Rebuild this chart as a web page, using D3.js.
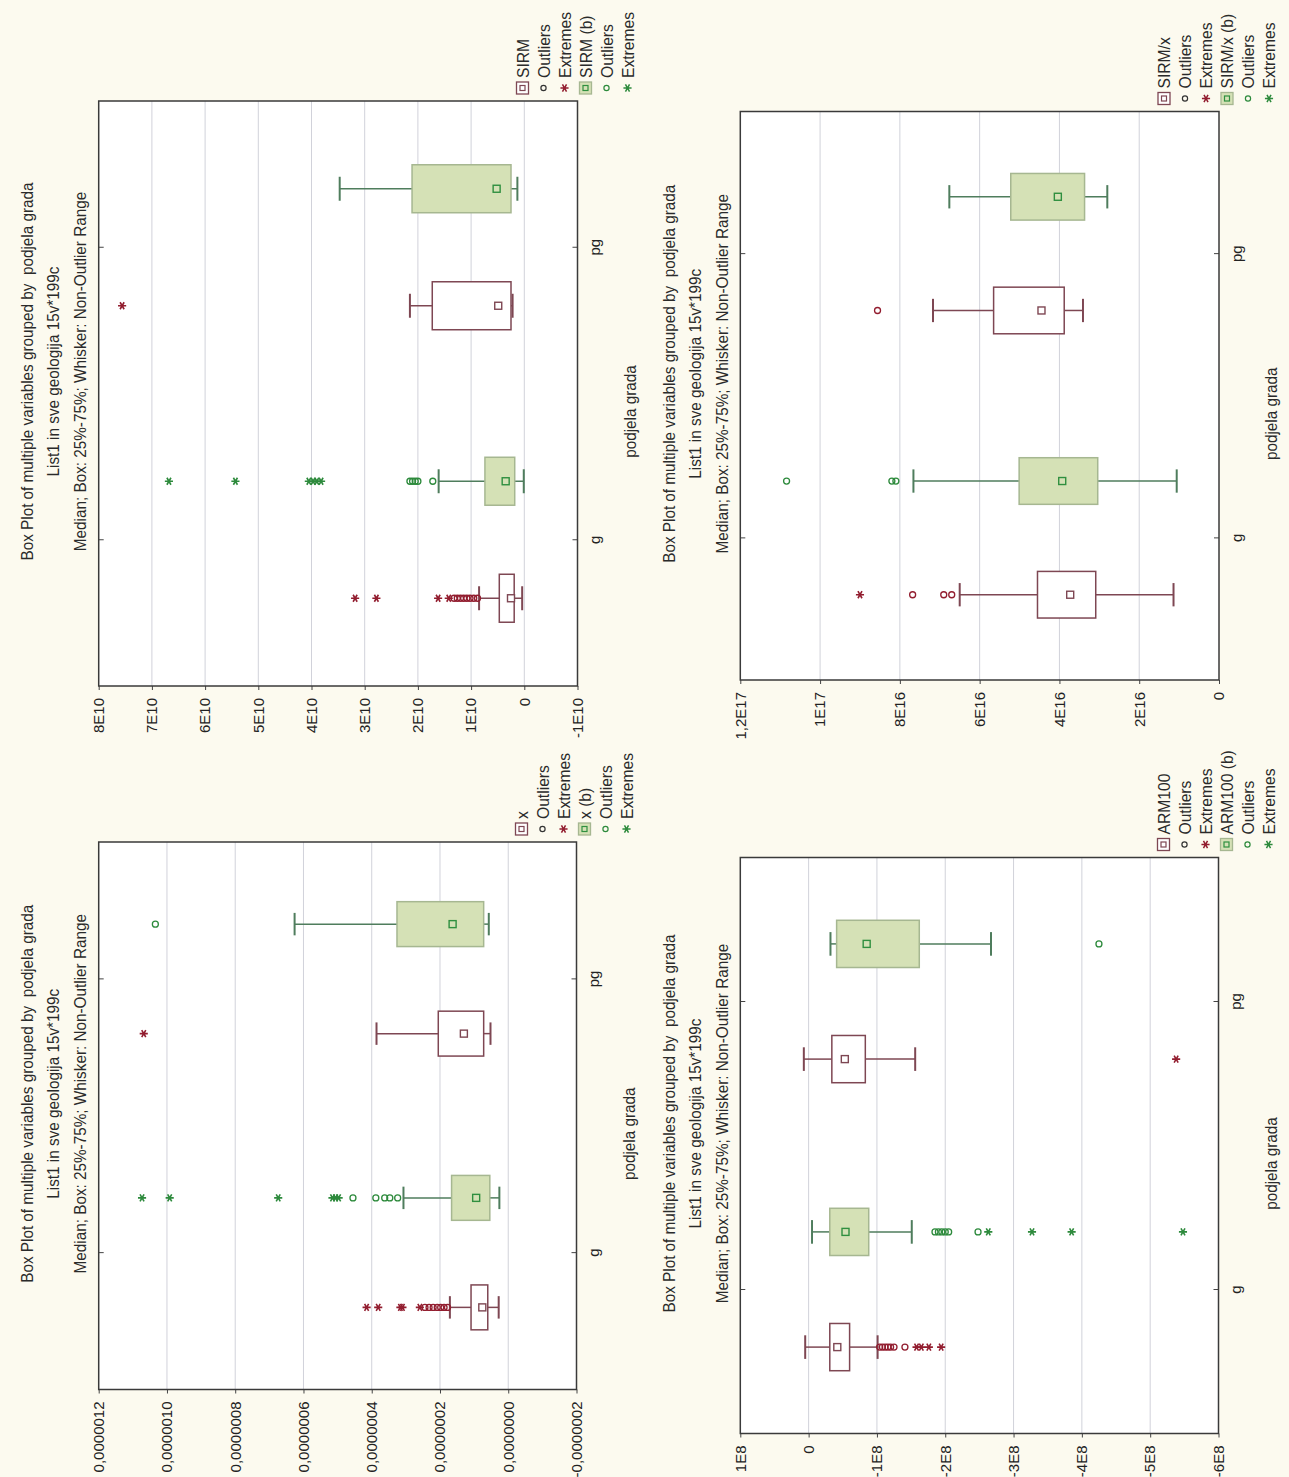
<!DOCTYPE html>
<html><head><meta charset="utf-8">
<script src="https://cdn.jsdelivr.net/npm/d3@7"></script>
<style>
html,body{margin:0;padding:0;background:#fcfaef;}
svg{display:block;}
text{white-space:pre;}
</style></head><body>
<svg id="chart" width="1289" height="1477"></svg>
<script>
// ---------- shared data ----------
const groups = ["g", "pg"];
const titleLines = [
  "Box Plot of multiple variables grouped by  podjela grada",
  "List1 in sve geologija 15v*199c",
  "Median; Box: 25%-75%; Whisker: Non-Outlier Range"
];
const xAxisTitle = "podjela grada";
const legendPointLabels = ["Outliers", "Extremes"];

// ---------- SIRM panel ----------
const sirmVars = ["SIRM", "SIRM (b)"];
const sirmTicks = [8e10, 7e10, 6e10, 5e10, 4e10, 3e10, 2e10, 1e10, 0, -1e10];
const sirmTickLabels = ["8E10", "7E10", "6E10", "5E10", "4E10", "3E10", "2E10", "1E10", "0", "-1E10"];
// [whisker low, Q1, median, Q3, whisker high] for g/SIRM, g/SIRM(b), pg/SIRM, pg/SIRM(b)
const sirmBoxes = [
  [0.04e10, 0.19e10, 0.25e10, 0.47e10, 0.85e10],
  [0.01e10, 0.18e10, 0.35e10, 0.74e10, 1.61e10],
  [0.22e10, 0.25e10, 0.49e10, 1.73e10, 2.15e10],
  [0.13e10, 0.25e10, 0.52e10, 2.11e10, 3.47e10]
];
const sirmOutliers = [
  [0.88e10, 0.95e10, 1.02e10, 1.08e10, 1.14e10, 1.2e10, 1.26e10, 1.32e10],
  [1.72e10, 2.0e10, 2.05e10, 2.1e10, 2.15e10],
  [],
  []
];
const sirmExtremes = [
  [1.42e10, 1.62e10, 2.78e10, 3.18e10],
  [3.82e10, 3.9e10, 3.97e10, 4.05e10, 5.43e10, 6.68e10],
  [7.56e10],
  []
];

// ---------- SIRM/x panel ----------
const sirmxVars = ["SIRM/x", "SIRM/x (b)"];
const sirmxTicks = [1.2e17, 1e17, 8e16, 6e16, 4e16, 2e16, 0];
const sirmxTickLabels = ["1,2E17", "1E17", "8E16", "6E16", "4E16", "2E16", "0"];
const sirmxBoxes = [
  [1.14e16, 3.09e16, 3.73e16, 4.55e16, 6.5e16],
  [1.06e16, 3.04e16, 3.93e16, 5.01e16, 7.66e16],
  [3.41e16, 3.88e16, 4.45e16, 5.65e16, 7.17e16],
  [2.8e16, 3.37e16, 4.04e16, 5.22e16, 6.76e16]
];
const sirmxOutliers = [
  [6.7e16, 6.9e16, 7.68e16],
  [8.1e16, 8.2e16, 10.84e16],
  [8.56e16],
  []
];
const sirmxExtremes = [
  [9.0e16],
  [],
  [],
  []
];

// ---------- x panel ----------
const xVars = ["x", "x (b)"];
const xTicks = [1.2e-6, 1.0e-6, 8e-7, 6e-7, 4e-7, 2e-7, 0, -2e-7];
const xTickLabels = ["0,0000012", "0,0000010", "0,0000008", "0,0000006", "0,0000004", "0,0000002", "0,0000000", "-0,0000002"];
const xBoxes = [
  [2.8e-8, 6.0e-8, 7.6e-8, 1.09e-7, 1.71e-7],
  [2.6e-8, 5.4e-8, 9.4e-8, 1.66e-7, 3.07e-7],
  [5.2e-8, 7.2e-8, 1.3e-7, 2.05e-7, 3.86e-7],
  [5.7e-8, 7.2e-8, 1.63e-7, 3.26e-7, 6.26e-7]
];
const xOutliers = [
  [1.78e-7, 1.88e-7, 1.98e-7, 2.08e-7, 2.2e-7, 2.32e-7, 2.44e-7],
  [3.24e-7, 3.47e-7, 3.62e-7, 3.88e-7, 4.55e-7],
  [],
  [1.034e-6]
];
const xExtremes = [
  [2.59e-7, 3.1e-7, 3.16e-7, 3.81e-7, 4.15e-7],
  [4.97e-7, 5.06e-7, 5.15e-7, 6.74e-7, 9.92e-7, 1.073e-6],
  [1.068e-6],
  []
];

// ---------- ARM100 panel ----------
const armVars = ["ARM100", "ARM100 (b)"];
const armTicks = [1e8, 0, -1e8, -2e8, -3e8, -4e8, -5e8, -6e8];
const armTickLabels = ["1E8", "0", "-1E8", "-2E8", "-3E8", "-4E8", "-5E8", "-6E8"];
const armBoxes = [
  [-1.01e8, -0.6e8, -0.42e8, -0.31e8, 0.05e8],
  [-1.51e8, -0.88e8, -0.54e8, -0.31e8, -0.05e8],
  [-1.56e8, -0.83e8, -0.53e8, -0.34e8, 0.07e8],
  [-2.67e8, -1.62e8, -0.85e8, -0.41e8, -0.32e8]
];
const armOutliers = [
  [-1.04e8, -1.08e8, -1.12e8, -1.16e8, -1.2e8, -1.25e8, -1.41e8],
  [-1.85e8, -1.9e8, -1.95e8, -2.0e8, -2.05e8, -2.48e8],
  [],
  [-4.25e8]
];
const armExtremes = [
  [-1.58e8, -1.65e8, -1.76e8, -1.94e8],
  [-2.63e8, -3.27e8, -3.85e8, -5.48e8],
  [-5.38e8],
  []
];

// ---------- drawing ----------
const FONT = '"Liberation Sans", Arial, Helvetica, sans-serif';
const COL = {
  a: {stroke: "#7e4753", fill: "#ffffff", whisker: "#7e4753", median: "#7e4753", point: "#921d2f"},
  b: {stroke: "#a6b791", fill: "#d5e1b6", whisker: "#4f7d5d", median: "#2f8f3f", point: "#2d8a3c"}
};

const svg = d3.select("#chart");
svg.append("rect").attr("width", 1289).attr("height", 1477).attr("fill", "#fcfaef");

function drawPanel(p) {
  const W = p.fx1 - p.fx0;   // value extent (screen x)
  const H = p.fy1 - p.fy0;   // category extent (screen y)
  const g = svg.append("g").attr("transform", `translate(${p.fx0},${p.fy1}) rotate(-90)`)
    .attr("font-family", FONT);

  const y = d3.scaleLinear().domain([p.ticks[p.ticks.length - 1], p.ticks[0]]).range([W, 0]);
  const x = d3.scaleBand().domain(groups).range([0, H]);

  g.append("rect").attr("width", H).attr("height", W).attr("fill", "#ffffff");

  // gridlines
  g.append("g").selectAll("line").data(p.ticks.slice(1, -1)).join("line")
    .attr("x1", 0).attr("x2", H).attr("y1", d => y(d)).attr("y2", d => y(d))
    .attr("stroke", "#d1d2da").attr("stroke-width", 1);

  // value axis
  const ay = g.append("g").call(
    d3.axisLeft(y).tickValues(p.ticks).tickFormat((d, i) => p.tickLabels[i])
      .tickSizeInner(4).tickSizeOuter(0).tickPadding(8));
  ay.attr("font-family", FONT).attr("font-size", 15);
  ay.select(".domain").remove();
  ay.selectAll("line").attr("stroke", "#444");
  ay.selectAll("text").attr("fill", "#222");

  // category axis (ticks inward on both sides)
  const ax = g.append("g").attr("transform", `translate(0,${W})`).call(
    d3.axisBottom(x).tickSizeInner(-5).tickSizeOuter(0).tickPadding(12));
  ax.attr("font-family", FONT).attr("font-size", 15);
  ax.select(".domain").remove();
  ax.selectAll("line").attr("stroke", "#444");
  ax.selectAll("text").attr("fill", "#222");
  const ax2 = g.append("g").call(d3.axisTop(x).tickSizeInner(-5).tickSizeOuter(0).tickFormat(""));
  ax2.select(".domain").remove();
  ax2.selectAll("line").attr("stroke", "#444");

  // frame
  g.append("rect").attr("width", H).attr("height", W).attr("fill", "none")
    .attr("stroke", "#3a3a3a").attr("stroke-width", 1.5);

  // boxes
  const bw = 0.082 * H, off = 0.1 * H, cap = bw * 0.5;
  const star = d3.symbol(d3.symbolAsterisk, 46)();
  p.boxes.forEach((s, i) => {
    const grp = groups[Math.floor(i / 2)];
    const k = i % 2;
    const c = k ? COL.b : COL.a;
    const uc = x(grp) + x.bandwidth() / 2 + (k ? off : -off);
    const [wlo, q1, med, q3, whi] = s;
    const bg = g.append("g");
    bg.append("line").attr("x1", uc).attr("x2", uc).attr("y1", y(q3)).attr("y2", y(whi))
      .attr("stroke", c.whisker).attr("stroke-width", 1.5);
    bg.append("line").attr("x1", uc).attr("x2", uc).attr("y1", y(q1)).attr("y2", y(wlo))
      .attr("stroke", c.whisker).attr("stroke-width", 1.5);
    [whi, wlo].forEach(v => bg.append("line")
      .attr("x1", uc - cap / 2).attr("x2", uc + cap / 2).attr("y1", y(v)).attr("y2", y(v))
      .attr("stroke", c.whisker).attr("stroke-width", 2));
    bg.append("rect").attr("x", uc - bw / 2).attr("width", bw)
      .attr("y", y(q3)).attr("height", y(q1) - y(q3))
      .attr("fill", c.fill).attr("stroke", c.stroke).attr("stroke-width", 1.5);
    bg.append("rect").attr("x", uc - 3.5).attr("y", y(med) - 3.5).attr("width", 7).attr("height", 7)
      .attr("fill", k ? c.fill : "#fff").attr("stroke", c.median).attr("stroke-width", 1.4);
    bg.selectAll("circle").data(p.outliers[i]).join("circle")
      .attr("cx", uc).attr("cy", d => y(d)).attr("r", 3)
      .attr("fill", "none").attr("stroke", c.point).attr("stroke-width", 1.3);
    bg.selectAll("path.ext").data(p.extremes[i]).join("path").attr("class", "ext")
      .attr("transform", d => `translate(${uc},${y(d)})`).attr("d", star)
      .attr("fill", "none").attr("stroke", c.point).attr("stroke-width", 1.6);
  });

  // titles (slightly condensed, as in the reference)
  titleLines.forEach((t, i) => g.append("text")
    .attr("transform", `translate(${H / 2 + 22},${[-72, -46, -19][i]}) scale(0.9,1)`)
    .attr("text-anchor", "middle").attr("dominant-baseline", "central")
    .attr("font-size", 17).attr("fill", "#2a2a2a").text(t));

  g.append("text")
    .attr("transform", `translate(${H / 2 - 18},${W + 52}) scale(0.9,1)`)
    .attr("text-anchor", "middle").attr("dominant-baseline", "central")
    .attr("font-size", 17).attr("fill", "#2a2a2a").text(xAxisTitle);

  // legend
  const items = [
    {type: "box", c: COL.a, label: p.vars[0]},
    {type: "out", c: COL.a, label: legendPointLabels[0]},
    {type: "ext", c: COL.a, label: legendPointLabels[1]},
    {type: "box", c: COL.b, label: p.vars[1]},
    {type: "out", c: COL.b, label: legendPointLabels[0]},
    {type: "ext", c: COL.b, label: legendPointLabels[1]}
  ];
  const lg = g.append("g");
  items.forEach((it, i) => {
    const v = W - 55 + 21 * i, u = H + 13;
    if (it.type === "box") {
      lg.append("rect").attr("x", u - 6).attr("y", v - 6).attr("width", 12).attr("height", 12)
        .attr("fill", it.c === COL.b ? COL.b.fill : "#fff").attr("stroke", it.c.stroke).attr("stroke-width", 1.3);
      lg.append("rect").attr("x", u - 2.5).attr("y", v - 2.5).attr("width", 5).attr("height", 5)
        .attr("fill", "none").attr("stroke", it.c.median).attr("stroke-width", 1.2);
    } else if (it.type === "out") {
      lg.append("circle").attr("cx", u).attr("cy", v).attr("r", 2.6)
        .attr("fill", "none").attr("stroke", it.c === COL.a ? "#333" : it.c.point).attr("stroke-width", 1.2);
    } else {
      lg.append("path").attr("transform", `translate(${u},${v})`).attr("d", star)
        .attr("fill", "none").attr("stroke", it.c.point).attr("stroke-width", 1.5);
    }
    lg.append("text").attr("transform", `translate(${u + 10},${v}) scale(0.92,1)`)
      .attr("dominant-baseline", "central")
      .attr("font-size", 17).attr("fill", "#2a2a2a").text(it.label);
  });
}

drawPanel({fx0: 98.7, fx1: 577.5, fy0: 101, fy1: 686, ticks: sirmTicks, tickLabels: sirmTickLabels,
  vars: sirmVars, boxes: sirmBoxes, outliers: sirmOutliers, extremes: sirmExtremes});
drawPanel({fx0: 740.3, fx1: 1219, fy0: 111.5, fy1: 680, ticks: sirmxTicks, tickLabels: sirmxTickLabels,
  vars: sirmxVars, boxes: sirmxBoxes, outliers: sirmxOutliers, extremes: sirmxExtremes});
drawPanel({fx0: 98.7, fx1: 576.5, fy0: 842, fy1: 1389.5, ticks: xTicks, tickLabels: xTickLabels,
  vars: xVars, boxes: xBoxes, outliers: xOutliers, extremes: xExtremes});
drawPanel({fx0: 740.3, fx1: 1218.5, fy0: 857.5, fy1: 1433.5, ticks: armTicks, tickLabels: armTickLabels,
  vars: armVars, boxes: armBoxes, outliers: armOutliers, extremes: armExtremes});
</script>
</body></html>
